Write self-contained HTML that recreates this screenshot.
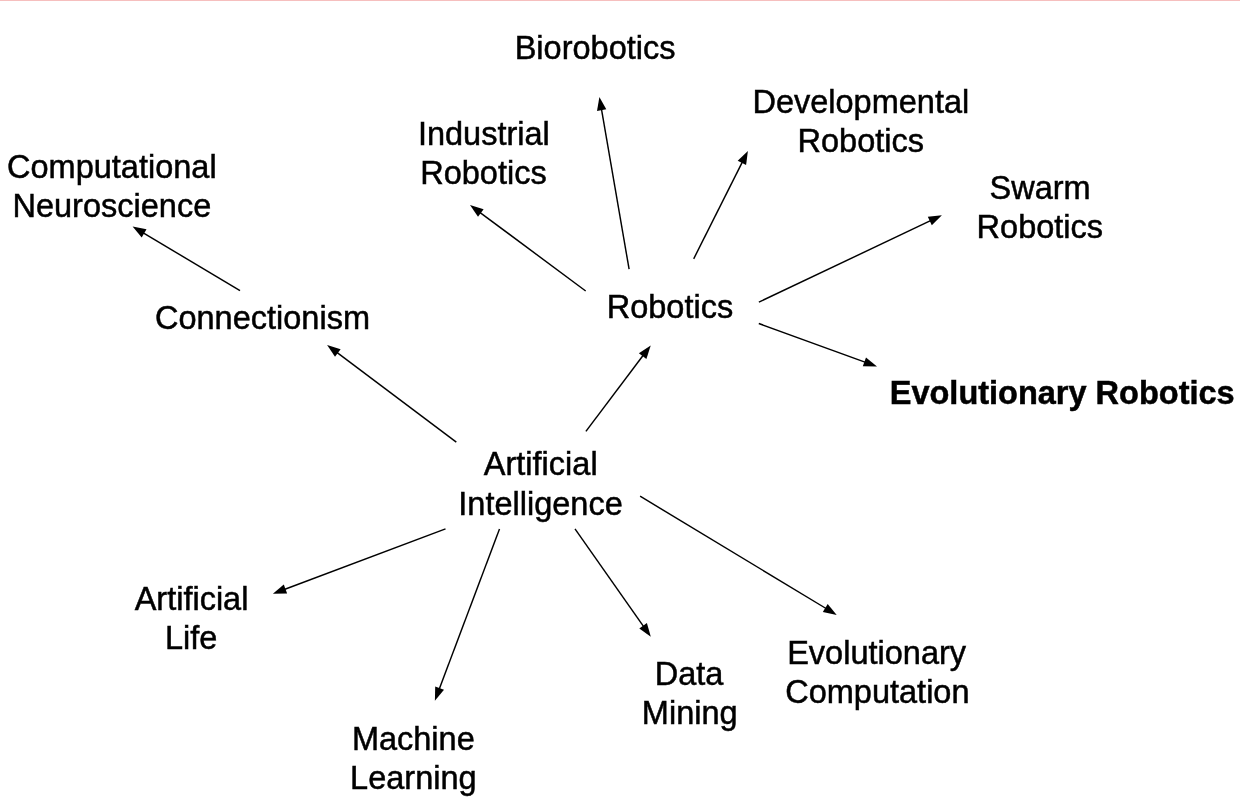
<!DOCTYPE html>
<html><head><meta charset="utf-8"><style>
html,body{margin:0;padding:0;background:#fff;width:1240px;height:808px;overflow:hidden}
.top{position:absolute;left:0;top:0;width:1240px;height:1px;background:#f6bfbe}
svg{position:absolute;left:0;top:0;will-change:transform}
text{font-family:"Liberation Sans",sans-serif;font-size:32.5px;fill:#000;stroke:#000;stroke-width:0.5px}
line{stroke:#000;stroke-width:1.45}
polygon{fill:#000}
</style></head><body>
<div class="top"></div>
<svg width="1240" height="808" viewBox="0 0 1240 808">
<line x1="240.0" y1="290.7" x2="142.4" y2="232.3"/>
<polygon points="132.6,226.5 146.5,229.3 141.7,237.4"/>
<line x1="456.3" y1="442.2" x2="336.2" y2="351.8"/>
<polygon points="327.1,344.9 340.6,349.2 335.0,356.7"/>
<line x1="585.9" y1="431.4" x2="643.8" y2="354.5"/>
<polygon points="650.7,345.4 646.4,358.9 638.9,353.3"/>
<line x1="585.7" y1="291.0" x2="479.1" y2="211.8"/>
<polygon points="470.0,205.0 483.6,209.2 478.0,216.8"/>
<line x1="629.1" y1="269.2" x2="601.3" y2="108.1"/>
<polygon points="599.4,96.9 606.3,109.3 597.0,110.9"/>
<line x1="693.7" y1="258.8" x2="742.8" y2="161.1"/>
<polygon points="747.9,150.9 746.1,165.0 737.7,160.8"/>
<line x1="758.9" y1="302.1" x2="931.6" y2="220.2"/>
<polygon points="941.9,215.3 931.8,225.3 927.8,216.8"/>
<line x1="758.8" y1="323.5" x2="866.3" y2="362.6"/>
<polygon points="877.0,366.5 862.8,366.3 866.0,357.5"/>
<line x1="445.5" y1="528.9" x2="283.6" y2="589.7"/>
<polygon points="272.9,593.7 283.8,584.6 287.1,593.4"/>
<line x1="499.5" y1="528.9" x2="438.9" y2="690.0"/>
<polygon points="434.9,700.7 435.2,686.5 444.0,689.8"/>
<line x1="575.0" y1="528.8" x2="644.2" y2="627.4"/>
<polygon points="650.8,636.7 639.3,628.4 646.9,623.0"/>
<line x1="640.1" y1="496.2" x2="826.9" y2="609.0"/>
<polygon points="836.7,614.9 822.8,612.0 827.7,604.0"/>
<text x="514.7" y="58.9">Biorobotics</text>
<text x="7.05" y="178">Computational</text>
<text x="12.5" y="216.8">Neuroscience</text>
<text x="417.9" y="145">Industrial</text>
<text x="420.2" y="184">Robotics</text>
<text x="752.45" y="112.5">Developmental</text>
<text x="797.55" y="151.6">Robotics</text>
<text x="989.5" y="198.8">Swarm</text>
<text x="976.6" y="237.9">Robotics</text>
<text x="155" y="328.7">Connectionism</text>
<text x="606.7" y="318.1">Robotics</text>
<text x="483.85" y="474.7">Artificial</text>
<text x="458.35" y="514.8">Intelligence</text>
<text x="134.65" y="610.1">Artificial</text>
<text x="164.9" y="648.8">Life</text>
<text x="351.9" y="750.1">Machine</text>
<text x="350.1" y="788.8">Learning</text>
<text x="654.75" y="684.7">Data</text>
<text x="641.85" y="723.6">Mining</text>
<text x="787.2" y="664">Evolutionary</text>
<text x="785.25" y="702.5">Computation</text>
<text x="889.75" y="403.9" font-weight="bold">Evolutionary Robotics</text>
</svg>
</body></html>
